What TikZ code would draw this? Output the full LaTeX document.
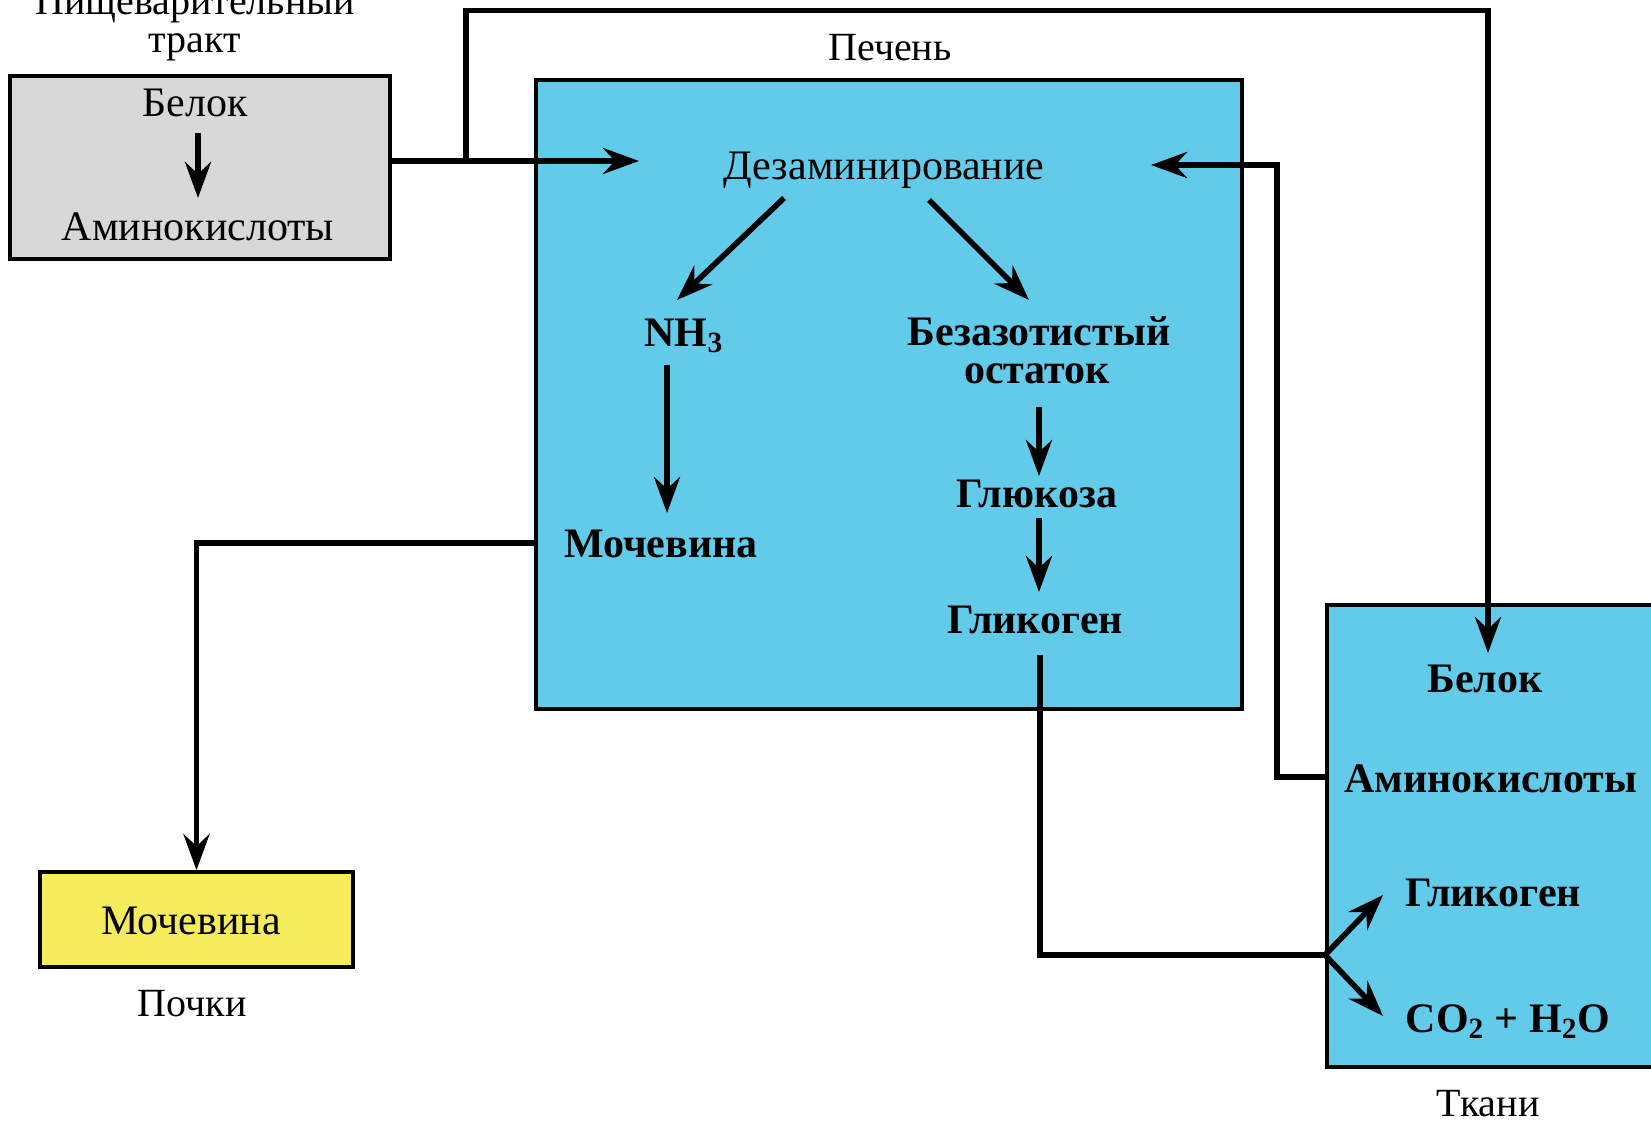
\documentclass[tikz,border=0pt]{standalone}
\usepackage{fontspec}
\setmainfont{Liberation Serif}
\usetikzlibrary{arrows.meta}
\definecolor{liverblue}{RGB}{98,203,234}
\definecolor{gutgrey}{RGB}{216,216,216}
\definecolor{ureayellow}{RGB}{244,236,90}
\begin{document}
\begin{tikzpicture}[x=0.5pt,y=-0.5pt,
  conn/.style={line width=2.8pt},
  arr/.style={conn,-{Stealth[length=18pt,width=13pt,inset=6pt]}},
  box/.style={draw,line width=1.8pt,inner sep=0pt},
  lbl/.style={anchor=base,inner sep=0pt,font=\fontsize{20}{24}\selectfont},
  blbl/.style={anchor=base,inner sep=0pt,font=\fontsize{21}{24}\selectfont\bfseries},
  glbl/.style={anchor=base,inner sep=0pt,font=\fontsize{21}{24}\selectfont}]
\useasboundingbox (0,0) rectangle (1651,1124);
\clip (0,0) rectangle (1651,1124);
\fill[white] (0,0) rectangle (1651,1124);

% boxes
\node[box,fill=gutgrey,minimum width=189.75pt,minimum height=91.5pt] (gut) at (200,167.5) {};
\node[box,fill=liverblue,minimum width=353pt,minimum height=314.5pt] (liver) at (889,394.5) {};
\node[box,fill=ureayellow,minimum width=156.5pt,minimum height=47.5pt] (kid) at (196.5,919.5) {};
\node[box,fill=liverblue,minimum width=186.5pt,minimum height=231pt] (tis) at (1513.5,836) {};

% titles
\node[lbl] (t1) at (195,15) {Пищеварительный};
\node[lbl] (t2) at (195,53) {тракт};
\node[lbl] (tliver) at (890,61) {Печень};
\node[lbl] (tkid) at (192,1016) {Почки};
\node[lbl] (ttis) at (1488,1116) {Ткани};

% gut contents
\node[glbl] (gbel) at (195,116) {Белок};
\node[glbl] (gam) at (198,240) {Аминокислоты};
\coordinate (ga1) at (198,133);
\coordinate (ga2) at (198,198);
\draw[arr] (ga1) -- (ga2);

% liver contents
\node[glbl] (dez) at (884,179) {Дезаминирование};
\node[blbl] (nh) at (684,346) {NH\textsubscript{3}};
\node[blbl] (bez) at (1039,345) {Безазотистый};
\node[blbl] (ost) at (1037,383) {остаток};
\node[blbl] (glu) at (1037,507) {Глюкоза};
\node[blbl] (glyl) at (1035,633) {Гликоген};
\node[blbl] (mochl) at (661,557) {Мочевина};

\coordinate (d1a) at (784,198); \coordinate (d1b) at (677,300);
\coordinate (d2a) at (929,200); \coordinate (d2b) at (1029,300);
\coordinate (n1a) at (667,365); \coordinate (n1b) at (667,513);
\coordinate (b1a) at (1039,407); \coordinate (b1b) at (1039,476);
\coordinate (g1a) at (1039,518); \coordinate (g1b) at (1039,592);
\draw[arr] (d1a) -- (d1b);
\draw[arr] (d2a) -- (d2b);
\draw[arr] (n1a) -- (n1b);
\draw[arr] (b1a) -- (b1b);
\draw[arr] (g1a) -- (g1b);

% kidney contents
\node[glbl] (mochk) at (191,934) {Мочевина};

% tissue contents
\node[blbl] (tbel) at (1485,692) {Белок};
\node[blbl] (tam) at (1491,792) {Аминокислоты};
\node[blbl] (tgly) at (1493,906) {Гликоген};
\node[blbl] (tco) at (1508,1032) {CO\textsubscript{2} + H\textsubscript{2}O};

% connectors
\coordinate (dezin) at (639,161);
\coordinate (loopL) at (466,161);
\coordinate (tisin) at (1488,653);
\coordinate (dezR) at (1151,165);
\coordinate (split) at (1325,955);
\coordinate (glyout) at (1040,655);
\coordinate (splA) at (1383,895);
\coordinate (splB) at (1383,1016);

\draw[arr] (gut.east |- dezin) -- (dezin);
\draw[arr] (loopL) |- (1488,10.5) -- (tisin);
\draw[arr] (tis.west |- 0,777) -| (1277,165) -- (dezR);
\draw[arr] (liver.west |- 0,543) -| (kid.north);
\draw[conn] (glyout) |- (split);
\draw[arr] (split) -- (splA);
\draw[arr] (split) -- (splB);
\end{tikzpicture}
\end{document}
